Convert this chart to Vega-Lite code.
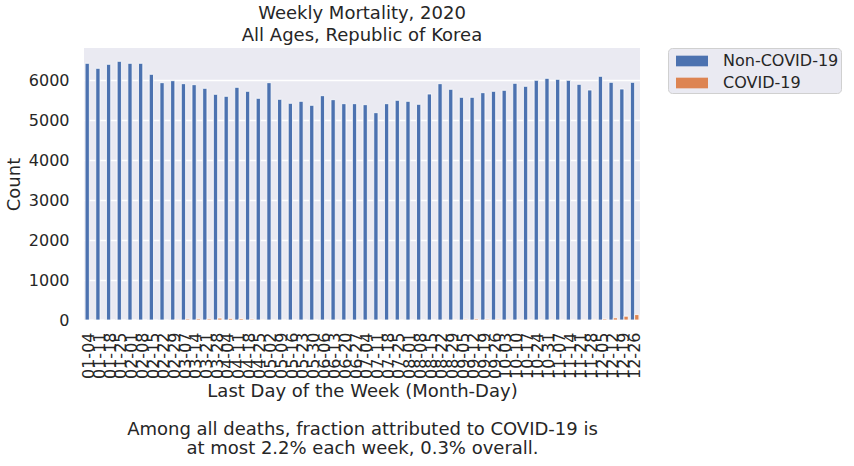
{
  "$schema": "https://vega.github.io/schema/vega-lite/v6.json",
  "width": 556,
  "height": 272,
  "padding": {"left": 5, "top": 5, "right": 5, "bottom": 5},
  "background": "white",
  "config": {
    "font": "DejaVu Sans",
    "view": {"fill": "#EAEAF2", "stroke": null},
    "axis": {"labelFont": "DejaVu Sans", "titleFont": "DejaVu Sans", "labelColor": "#262626", "titleColor": "#262626", "labelFontSize": 16, "titleFontSize": 18, "titleFontWeight": "normal", "domain": false, "ticks": false, "gridColor": "white", "gridWidth": 1.3}
  },
  "title": {
    "text": ["Weekly Mortality, 2020", "All Ages, Republic of Korea"],
    "fontSize": 18,
    "fontWeight": "normal",
    "color": "#262626",
    "font": "DejaVu Sans",
    "lineHeight": 21.5,
    "offset": 3
  },
  "datasets": {
    "nc": [
      {"week": "01-04", "count": 6417}, {"week": "01-11", "count": 6292}, {"week": "01-18", "count": 6392}, {"week": "01-25", "count": 6467},
      {"week": "02-01", "count": 6417}, {"week": "02-08", "count": 6417}, {"week": "02-15", "count": 6142}, {"week": "02-22", "count": 5933},
      {"week": "02-29", "count": 5983}, {"week": "03-07", "count": 5908}, {"week": "03-14", "count": 5883}, {"week": "03-21", "count": 5792},
      {"week": "03-28", "count": 5642}, {"week": "04-04", "count": 5592}, {"week": "04-11", "count": 5817}, {"week": "04-18", "count": 5717},
      {"week": "04-25", "count": 5542}, {"week": "05-02", "count": 5933}, {"week": "05-09", "count": 5517}, {"week": "05-16", "count": 5417},
      {"week": "05-23", "count": 5467}, {"week": "05-30", "count": 5367}, {"week": "06-06", "count": 5608}, {"week": "06-13", "count": 5508},
      {"week": "06-20", "count": 5408}, {"week": "06-27", "count": 5408}, {"week": "07-04", "count": 5383}, {"week": "07-11", "count": 5183},
      {"week": "07-18", "count": 5408}, {"week": "07-25", "count": 5492}, {"week": "08-01", "count": 5467}, {"week": "08-08", "count": 5392},
      {"week": "08-15", "count": 5650}, {"week": "08-22", "count": 5908}, {"week": "08-29", "count": 5767}, {"week": "09-05", "count": 5567},
      {"week": "09-12", "count": 5567}, {"week": "09-19", "count": 5683}, {"week": "09-26", "count": 5717}, {"week": "10-03", "count": 5742},
      {"week": "10-10", "count": 5917}, {"week": "10-17", "count": 5842}, {"week": "10-24", "count": 5992}, {"week": "10-31", "count": 6042},
      {"week": "11-07", "count": 6017}, {"week": "11-14", "count": 5992}, {"week": "11-21", "count": 5892}, {"week": "11-28", "count": 5750},
      {"week": "12-05", "count": 6092}, {"week": "12-12", "count": 5942}, {"week": "12-19", "count": 5775}, {"week": "12-26", "count": 5942}
    ],
    "cv": [
      {"week": "01-04", "count": 0}, {"week": "01-11", "count": 0}, {"week": "01-18", "count": 0}, {"week": "01-25", "count": 0},
      {"week": "02-01", "count": 0}, {"week": "02-08", "count": 0}, {"week": "02-15", "count": 0}, {"week": "02-22", "count": 2},
      {"week": "02-29", "count": 16}, {"week": "03-07", "count": 28}, {"week": "03-14", "count": 33}, {"week": "03-21", "count": 30},
      {"week": "03-28", "count": 48}, {"week": "04-04", "count": 40}, {"week": "04-11", "count": 36}, {"week": "04-18", "count": 22},
      {"week": "04-25", "count": 11}, {"week": "05-02", "count": 4}, {"week": "05-09", "count": 2}, {"week": "05-16", "count": 1},
      {"week": "05-23", "count": 1}, {"week": "05-30", "count": 2}, {"week": "06-06", "count": 3}, {"week": "06-13", "count": 4},
      {"week": "06-20", "count": 3}, {"week": "06-27", "count": 3}, {"week": "07-04", "count": 4}, {"week": "07-11", "count": 3},
      {"week": "07-18", "count": 3}, {"week": "07-25", "count": 2}, {"week": "08-01", "count": 2}, {"week": "08-08", "count": 2},
      {"week": "08-15", "count": 1}, {"week": "08-22", "count": 4}, {"week": "08-29", "count": 7}, {"week": "09-05", "count": 18},
      {"week": "09-12", "count": 28}, {"week": "09-19", "count": 20}, {"week": "09-26", "count": 18}, {"week": "10-03", "count": 14},
      {"week": "10-10", "count": 13}, {"week": "10-17", "count": 12}, {"week": "10-24", "count": 12}, {"week": "10-31", "count": 8},
      {"week": "11-07", "count": 6}, {"week": "11-14", "count": 6}, {"week": "11-21", "count": 7}, {"week": "11-28", "count": 15},
      {"week": "12-05", "count": 26}, {"week": "12-12", "count": 55}, {"week": "12-19", "count": 95}, {"week": "12-26", "count": 135}
    ]
  },
  "data": {"name": "nc"},
  "transform": [
    {"lookup": "week", "from": {"data": {"name": "cv"}, "key": "week", "fields": ["count"]}, "as": ["cvcount"]},
    {"fold": ["count", "cvcount"], "as": ["key", "value"]},
    {"calculate": "datum.key == 'count' ? 'Non-COVID-19' : 'COVID-19'", "as": "cause"}
  ],
  "mark": {"type": "bar", "stroke": "white", "strokeWidth": 0.8},
  "encoding": {
    "x": {
      "field": "week", "type": "nominal", "sort": null,
      "scale": {"paddingInner": 0.2, "paddingOuter": 0.1},
      "axis": {"labelAngle": -90, "grid": false, "labelPadding": 12, "labelOverlap": false,
        "title": ["Last Day of the Week (Month-Day)", "\u2800", "Among all deaths, fraction attributed to COVID-19 is", "at most 2.2% each week, 0.3% overall."],
        "titleLineHeight": 19, "titlePadding": 4}
    },
    "xOffset": {"field": "cause", "type": "nominal", "sort": ["Non-COVID-19", "COVID-19"], "scale": {"paddingInner": 0, "paddingOuter": 0}},
    "y": {
      "field": "value", "type": "quantitative",
      "scale": {"domain": [0, 6800], "nice": false},
      "axis": {"title": "Count", "values": [0, 1000, 2000, 3000, 4000, 5000, 6000], "format": "d", "labelPadding": 15, "titlePadding": 5}
    },
    "color": {
      "field": "cause", "type": "nominal",
      "sort": ["Non-COVID-19", "COVID-19"],
      "scale": {"domain": ["Non-COVID-19", "COVID-19"], "range": ["#4C72B0", "#DD8452"]},
      "legend": {
        "title": null, "orient": "none", "legendX": 584, "legendY": 0,
        "fillColor": "#EAEAF2", "strokeColor": "#d0d0d0", "cornerRadius": 4, "padding": 2,
        "symbolType": "M-1.5,-0.5L1.5,-0.5L1.5,0.5L-1.5,0.5Z", "symbolSize": 455, "symbolStrokeWidth": 0,
        "labelFontSize": 16, "labelColor": "#262626", "labelFont": "DejaVu Sans", "labelOffset": 20, "rowPadding": 3, "symbolOffset": 11
      }
    }
  }
}
